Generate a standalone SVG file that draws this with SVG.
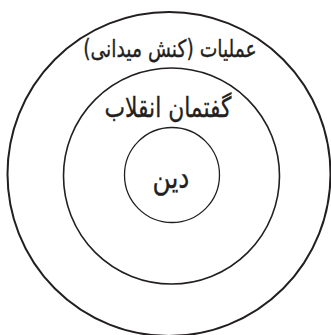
<svg xmlns="http://www.w3.org/2000/svg" width="331" height="335" viewBox="0 0 331 335">
<style>
.ring{fill:none;stroke:#231f20}
.lbl{font-family:"DejaVu Sans",sans-serif;fill:#231f20;stroke:#231f20;stroke-width:0.35;text-anchor:middle;direction:rtl}
</style>
<rect width="331" height="335" fill="#fff"/>
<g id="outer">
<ellipse class="ring" cx="169" cy="174" rx="161.5" ry="162" stroke-width="2"/>
<text class="lbl" transform="translate(170,57) scale(0.78,1)" font-size="24">عملیات (کنش میدانی)</text>
</g>
<g id="middle">
<circle class="ring" cx="171.5" cy="176" r="108" stroke-width="1.6"/>
<text class="lbl" transform="translate(168,117) scale(0.78,1)" font-size="28">گفتمان انقلاب</text>
</g>
<g id="inner">
<circle class="ring" cx="172" cy="175" r="47.5" stroke-width="1.3"/>
<text class="lbl" transform="translate(171,188) scale(0.8,1)" font-size="31">دین</text>
</g>
<g id="connectors"/>
</svg>
